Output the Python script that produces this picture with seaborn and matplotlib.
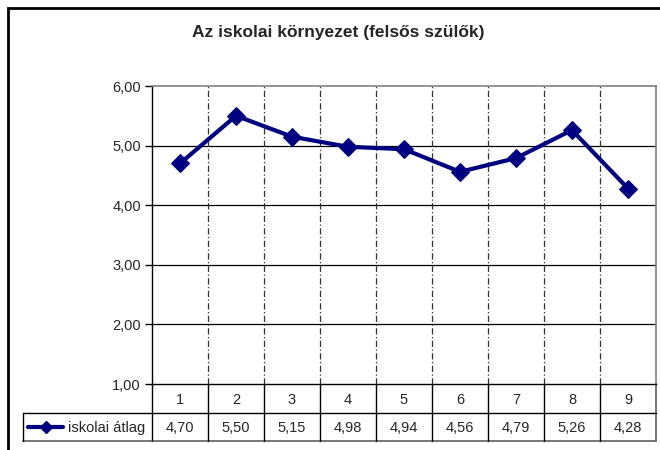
import matplotlib
matplotlib.use("Agg")
import matplotlib.pyplot as plt
import matplotlib.transforms as mtransforms
from matplotlib.patches import Rectangle
import seaborn as sns
import pandas as pd

# Data
categories = ["1", "2", "3", "4", "5", "6", "7", "8", "9"]
iskolai_atlag = [4.70, 5.50, 5.15, 4.98, 4.94, 4.56, 4.79, 5.26, 4.28]
series_name = "iskolai átlag"
title = "Az iskolai környezet (felsős szülők)"
y_ticks = [1.0, 2.0, 3.0, 4.0, 5.0, 6.0]

W, H = 660, 450
sns.set_theme(style="white")
plt.rcParams["font.family"] = ["Liberation Sans", "DejaVu Sans"]
FS = 10.5

fig = plt.figure(figsize=(W / 100, H / 100), dpi=100)
fig.patch.set_facecolor("white")

# pixel-coordinate transform (origin top-left)
pxT = mtransforms.Affine2D().scale(1 / W, -1 / H).translate(0, 1) + fig.transFigure

left, right, top, bottom = 152, 656, 86, 384
ax = fig.add_axes([left / W, 1 - bottom / H, (right - left) / W, (bottom - top) / H])

df = pd.DataFrame({"x": range(len(categories)), "y": iskolai_atlag})
navy = "#000080"
sns.lineplot(data=df, x="x", y="y", ax=ax, color=navy, linewidth=3,
             marker="D", markersize=9.5, markeredgecolor=navy, zorder=5)

ax.set_xlim(-0.5, len(categories) - 0.5)
ax.set_ylim(1, 6)
ax.set_yticks(y_ticks)
ax.set_yticklabels([f"{v:.2f}".replace(".", ",") for v in y_ticks], fontsize=FS)
ax.set_xticks([])
ax.set_xlabel("")
ax.set_ylabel("")
ax.tick_params(axis="y", direction="out", length=5, width=1, color="black", pad=3, left=True)

# gridlines
for v in y_ticks[1:-1]:
    ax.axhline(v, color="black", linewidth=0.9, zorder=1)
for i in range(len(categories) - 1):
    ax.axvline(i + 0.5, color="#333333", linewidth=0.9, linestyle=(0, (5, 2, 1, 2)), zorder=1)

for s in ["top", "right"]:
    ax.spines[s].set_color("#808080")
    ax.spines[s].set_linewidth(1.2)
for s in ["left", "bottom"]:
    ax.spines[s].set_color("black")
    ax.spines[s].set_linewidth(1)

# data table below the plot area
bt = mtransforms.blended_transform_factory(ax.transData, pxT)
row1_bot, row2_bot = 413, 441
xl, xr = -0.5, len(categories) - 0.5
ax.plot([xl, xr], [row2_bot, row2_bot], color="#606060", linewidth=1.2, clip_on=False, transform=bt)
for i in range(len(categories) + 1):
    xx = i - 0.5
    last = i == len(categories)
    ax.plot([xx, xx], [bottom, row2_bot], color="#606060" if last else "black",
            linewidth=1.2 if last else 1, clip_on=False, transform=bt)
ax.plot([xl, xr], [row1_bot, row1_bot], color="black", linewidth=1, clip_on=False, transform=bt)
for i, (cat, val) in enumerate(zip(categories, iskolai_atlag)):
    ax.text(i, (bottom + row1_bot) / 2 + 1, cat, ha="center", va="center",
            fontsize=FS, transform=bt, clip_on=False)
    ax.text(i, (row1_bot + row2_bot) / 2 + 1, f"{val:.2f}".replace(".", ","),
            ha="center", va="center", fontsize=FS, transform=bt, clip_on=False)

# legend key cell
fig.add_artist(plt.Line2D([23, left], [row1_bot, row1_bot], color="black", linewidth=1, transform=pxT))
fig.add_artist(plt.Line2D([23, left], [row2_bot, row2_bot], color="#606060", linewidth=1.2, transform=pxT))
fig.add_artist(plt.Line2D([23, 23], [row1_bot, row2_bot], color="black", linewidth=1, transform=pxT))
ymid = (row1_bot + row2_bot) / 2
fig.add_artist(plt.Line2D([28, 63], [ymid, ymid], color=navy, linewidth=3, transform=pxT))
fig.add_artist(plt.Line2D([45.5], [ymid], color=navy, marker="D", markersize=6,
                          linestyle="none", transform=pxT))
fig.text(68 / W, 1 - (ymid + 1) / H, series_name, ha="left", va="center", fontsize=FS)

# title
fig.text(338 / W, 1 - 33 / H, title, ha="center", va="center", fontsize=12.5, fontweight="bold")

# outer chart frame
fig.add_artist(Rectangle((8 / W, -0.1), 1.2, 1 - 8 / H + 0.1, transform=fig.transFigure,
                         fill=False, edgecolor="black", linewidth=2))

fig.savefig("out.png", dpi=100)
